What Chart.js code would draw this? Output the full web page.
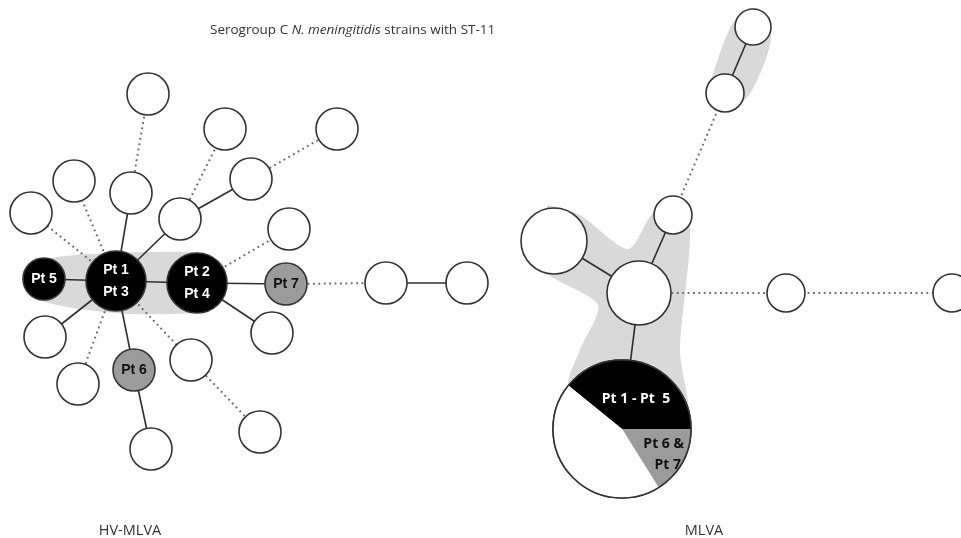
<!DOCTYPE html>
<html>
<head>
<meta charset="utf-8">
<script src="https://cdn.jsdelivr.net/npm/chart.js@4.4.1/dist/chart.umd.min.js"></script>
<style>
  html, body { margin: 0; padding: 0; background: #fff; }
  #wrap { width: 961px; height: 538px; position: relative; }
</style>
</head>
<body>
<div id="wrap"><canvas id="tree"></canvas></div>
<script>
// minimum spanning trees, node layout
// HV-MLVA tree is nodes 0-21, MLVA tree is nodes 22-29 (29 = the pie node)

const nodeX = [116, 44, 197, 286, 386, 467, 131, 148, 74, 31, 180, 225, 251, 337, 289, 272, 45, 78, 134, 151, 191, 260,
               554, 639, 673, 725, 753, 786, 952, 622];
const nodeY = [281, 279, 283, 284, 283, 283, 193, 94, 181, 213, 219, 129, 179, 129, 229, 333, 337, 384, 370, 449, 360, 432,
               241, 293, 215, 93, 27, 293, 293, 429];
const nodeSize = [30, 21, 30, 21, 21, 21, 21, 21, 21, 21, 21, 21, 21, 21, 21, 21, 21, 21, 21, 21, 21, 21,
                  33, 32, 19, 19, 18, 19, 19, 69];
// case = Pt 1-5, late = Pt 6/7, other = unrelated strains
const nodeKind = ['case', 'case', 'case', 'late', 'other', 'other', 'other', 'other', 'other', 'other', 'other',
                  'other', 'other', 'other', 'other', 'other', 'other', 'other', 'late', 'other', 'other', 'other',
                  'other', 'other', 'other', 'other', 'other', 'other', 'other', 'other'];
const nodeLabels = {0: ['Pt 1', 'Pt 3'], 1: ['Pt 5'], 2: ['Pt 2', 'Pt 4'], 3: ['Pt 7'], 18: ['Pt 6']};

const solidEdges = [[0, 1], [0, 2], [2, 3], [4, 5], [0, 6], [0, 10], [10, 12], [2, 15], [0, 16], [0, 18], [18, 19],
                    [22, 23], [23, 24], [25, 26], [23, 29]];
const dottedEdges = [[3, 4], [6, 7], [0, 8], [0, 9], [10, 11], [12, 13], [2, 14], [0, 17], [0, 20], [20, 21],
                     [24, 25], [23, 27], [27, 28]];

// grey clonal-complex shading
const hvHull = [[30, 268], [52, 258], [90, 254], [150, 252], [200, 253], [222, 263], [227, 283], [220, 304],
                [190, 313], [130, 314], [80, 309], [42, 301], [28, 288], [30, 268]];
const mlvaHull = [[548, 205], [580, 215], [628, 249], [652, 214], [673, 200], [690, 227], [680, 350], [687, 425],
                  [622, 429], [569, 386], [580, 350], [598, 305], [547, 273], [535, 240], [548, 205]];
const topHull = [[708, 88], [744, 101], [771, 35], [736, 20], [708, 88]];

// pie node: Pt 1 - Pt 5 / Pt 6 & Pt 7 / other, in degrees
const pieSlices = [141, 58, 161];
const pieStart = -141;
const pieLabels = [['Pt 1 - Pt  5'], ['Pt 6 &', 'Pt 7'], []];

const kindColors = { case: '#000000', late: '#9b9b9b', other: '#ffffff' };
const sliceColors = ['#000000', '#9b9b9b', '#ffffff'];

function edgeSet(pairs, dotted) {
  return pairs.map(([a, b]) => ({
    type: 'line',
    data: [{ x: nodeX[a], y: nodeY[a] }, { x: nodeX[b], y: nodeY[b] }],
    borderColor: dotted ? '#6a6a6a' : '#2e2e2e',
    borderWidth: dotted ? 2 : 1.6,
    borderDash: dotted ? [1.8, 3.6] : [],
    pointRadius: 0,
    fill: false,
    order: 2
  }));
}

function hullSet(pts) {
  return {
    type: 'line',
    data: pts.map(([x, y]) => ({ x, y })),
    borderWidth: 0,
    borderColor: 'rgba(0,0,0,0)',
    backgroundColor: '#d9d9d9',
    fill: 'shape',
    tension: 0.25,
    pointRadius: 0,
    order: 3
  };
}

const labelPlugin = {
  id: 'labels',
  afterDatasetsDraw(chart) {
    const { ctx, scales: { x, y } } = chart;
    ctx.save();

    // pie node
    const pi = nodeX.length - 1;
    const cx = x.getPixelForValue(nodeX[pi]);
    const cy = y.getPixelForValue(nodeY[pi]);
    const r = x.getPixelForValue(nodeX[pi] + nodeSize[pi]) - cx;
    let a = pieStart * Math.PI / 180;
    pieSlices.forEach((deg, i) => {
      const b = a + deg * Math.PI / 180;
      ctx.beginPath();
      ctx.moveTo(cx, cy);
      ctx.arc(cx, cy, r, a, b);
      ctx.closePath();
      ctx.fillStyle = sliceColors[i];
      ctx.fill();
      a = b;
    });
    ctx.beginPath();
    ctx.arc(cx, cy, r, 0, Math.PI * 2);
    ctx.lineWidth = 1.6;
    ctx.strokeStyle = '#333';
    ctx.stroke();

    ctx.textBaseline = 'middle';
    ctx.font = 'bold 14px "Open Sans", sans-serif';
    ctx.textAlign = 'center';
    ctx.fillStyle = '#fff';
    ctx.fillText(pieLabels[0][0], cx + 14, cy - 30);
    ctx.fillStyle = '#111';
    ctx.textAlign = 'right';
    ctx.fillText(pieLabels[1][0], cx + 62, cy + 15);
    ctx.fillText(pieLabels[1][1], cx + 59, cy + 36);

    // patient labels in nodes
    ctx.font = 'bold 14px "Liberation Sans", Arial, sans-serif';
    ctx.textAlign = 'center';
    Object.keys(nodeLabels).forEach(k => {
      const lines = nodeLabels[k];
      const px = x.getPixelForValue(nodeX[k]);
      const py = y.getPixelForValue(nodeY[k]);
      ctx.fillStyle = nodeKind[k] === 'case' ? '#fff' : '#111';
      lines.forEach((t, j) => {
        ctx.fillText(t, px, py + (j - (lines.length - 1) / 2) * 22);
      });
    });

    // title and panel names
    ctx.fillStyle = '#333';
    ctx.textAlign = 'left';
    ctx.textBaseline = 'alphabetic';
    const parts = [['Serogroup C ', ''], ['N. meningitidis', 'italic '], [' strains with ST-11', '']];
    let tx = 210;
    parts.forEach(([t, st]) => {
      ctx.font = st + '13.5px "Open Sans", sans-serif';
      ctx.fillText(t, tx, 34);
      tx += ctx.measureText(t).width;
    });
    ctx.font = '14.5px "Open Sans", sans-serif';
    ctx.textAlign = 'center';
    ctx.fillText('HV-MLVA', 130, 535);
    ctx.fillText('MLVA', 704, 535);
    ctx.restore();
  }
};

const nodeSet = {
  type: 'scatter',
  data: nodeX.map((v, i) => ({ x: v, y: nodeY[i] })),
  pointRadius: nodeSize,
  pointHoverRadius: nodeSize,
  pointBackgroundColor: nodeKind.map(k => kindColors[k]),
  pointBorderColor: '#333',
  pointBorderWidth: 1.6,
  clip: false,
  order: 1
};

new Chart(document.getElementById('tree'), {
  type: 'scatter',
  data: {
    datasets: [
      hullSet(hvHull),
      hullSet(mlvaHull),
      hullSet(topHull),
      ...edgeSet(solidEdges, false),
      ...edgeSet(dottedEdges, true),
      nodeSet
    ]
  },
  options: {
    responsive: true,
    maintainAspectRatio: false,
    animation: false,
    events: [],
    layout: { padding: 0, autoPadding: false },
    scales: {
      x: { type: 'linear', min: 0, max: 961, display: false },
      y: { type: 'linear', min: 0, max: 538, reverse: true, display: false }
    },
    plugins: {
      legend: { display: false },
      tooltip: { enabled: false }
    }
  },
  plugins: [labelPlugin]
});
</script>
</body>
</html>
